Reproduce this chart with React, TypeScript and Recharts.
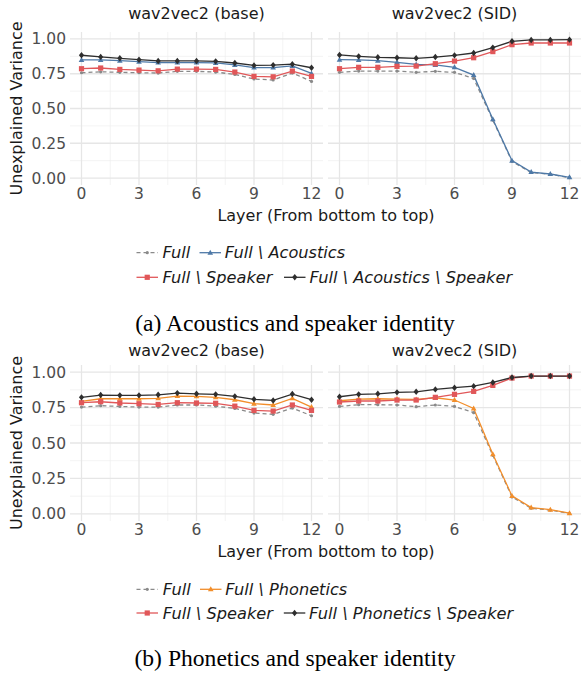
import React from "react";
import { LineChart, Line, XAxis, YAxis, ReferenceLine } from "recharts";

// ---------- DATA ----------
const layers = [0, 1, 2, 3, 4, 5, 6, 7, 8, 9, 10, 11, 12];
const xTicks = [0, 3, 6, 9, 12];
const yTicks = [0, 0.25, 0.5, 0.75, 1];

// (a) Acoustics and speaker identity — wav2vec2 (base)
const aBaseFull = [0.757, 0.764, 0.76, 0.757, 0.755, 0.767, 0.767, 0.762, 0.745, 0.712, 0.705, 0.755, 0.695];
const aBaseAco = [0.849, 0.849, 0.844, 0.837, 0.83, 0.83, 0.83, 0.828, 0.813, 0.794, 0.794, 0.806, 0.752];
const aBaseSpk = [0.786, 0.791, 0.781, 0.776, 0.771, 0.783, 0.783, 0.781, 0.762, 0.731, 0.728, 0.769, 0.731];
const aBaseAcoSpk = [0.883, 0.871, 0.861, 0.851, 0.842, 0.842, 0.842, 0.839, 0.827, 0.81, 0.812, 0.819, 0.793];
// (a) — wav2vec2 (SID)
const aSidFull = [0.76, 0.769, 0.769, 0.769, 0.76, 0.767, 0.76, 0.716, 0.416, 0.12, 0.04, 0.027, 0.003];
const aSidAco = [0.851, 0.849, 0.844, 0.832, 0.817, 0.813, 0.796, 0.74, 0.423, 0.125, 0.043, 0.029, 0.005];
const aSidSpk = [0.786, 0.796, 0.796, 0.803, 0.805, 0.822, 0.841, 0.865, 0.909, 0.959, 0.971, 0.971, 0.971];
const aSidAcoSpk = [0.885, 0.875, 0.868, 0.865, 0.861, 0.87, 0.882, 0.899, 0.938, 0.983, 0.993, 0.993, 0.995];

// (b) Phonetics and speaker identity — wav2vec2 (base)
const bBaseFull = [0.753, 0.763, 0.758, 0.753, 0.753, 0.768, 0.768, 0.76, 0.744, 0.711, 0.702, 0.746, 0.692];
const bBasePho = [0.793, 0.812, 0.812, 0.812, 0.815, 0.831, 0.829, 0.822, 0.805, 0.777, 0.768, 0.815, 0.753];
const bBaseSpk = [0.784, 0.791, 0.782, 0.777, 0.772, 0.784, 0.782, 0.78, 0.76, 0.73, 0.725, 0.768, 0.73];
const bBasePhoSpk = [0.822, 0.838, 0.836, 0.836, 0.84, 0.852, 0.847, 0.843, 0.829, 0.808, 0.8, 0.845, 0.805];
// (b) — wav2vec2 (SID)
const bSidFull = [0.758, 0.77, 0.77, 0.768, 0.756, 0.768, 0.758, 0.714, 0.413, 0.12, 0.04, 0.027, 0.003];
const bSidPho = [0.798, 0.81, 0.812, 0.81, 0.807, 0.819, 0.803, 0.744, 0.42, 0.127, 0.045, 0.03, 0.005];
const bSidSpk = [0.789, 0.796, 0.796, 0.803, 0.803, 0.822, 0.843, 0.864, 0.906, 0.958, 0.972, 0.972, 0.972];
const bSidPhoSpk = [0.826, 0.843, 0.847, 0.857, 0.861, 0.878, 0.89, 0.901, 0.927, 0.962, 0.972, 0.972, 0.972];

const panelTitles = ["wav2vec2 (base)", "wav2vec2 (SID)"];
const xTitle = "Layer (From bottom to top)";
const yTitle = "Unexplained Variance";
const captionA = "(a) Acoustics and speaker identity";
const captionB = "(b) Phonetics and speaker identity";
const legendA = ["Full", "Full \\ Acoustics", "Full \\ Speaker", "Full \\ Acoustics \\ Speaker"];
const legendB = ["Full", "Full \\ Phonetics", "Full \\ Speaker", "Full \\ Phonetics \\ Speaker"];

// ---------- STYLE ----------
const FONT = "'DejaVu Sans', Verdana, sans-serif";
const SERIF = "'Liberation Serif', 'Times New Roman', serif";
const GRAY = "#8a8a8a";
const BLUE = "#4e79a7";
const RED = "#e15759";
const ORANGE = "#f28e2b";
const BLACK = "#2e2e2e";

type Shape = "circle" | "triangle" | "square" | "diamond";
type SeriesDef = { key: string; color: string; shape: Shape; dashed?: boolean };

const seriesA: SeriesDef[] = [
  { key: "full", color: GRAY, shape: "circle", dashed: true },
  { key: "x", color: BLUE, shape: "triangle" },
  { key: "spk", color: RED, shape: "square" },
  { key: "xspk", color: BLACK, shape: "diamond" },
];
const seriesB: SeriesDef[] = [
  { key: "full", color: GRAY, shape: "circle", dashed: true },
  { key: "x", color: ORANGE, shape: "triangle" },
  { key: "spk", color: RED, shape: "square" },
  { key: "xspk", color: BLACK, shape: "diamond" },
];

function build(full: number[], x: number[], spk: number[], xspk: number[]) {
  return layers.map((l, i) => ({ layer: l, full: full[i], x: x[i], spk: spk[i], xspk: xspk[i] }));
}

const dataABase = build(aBaseFull, aBaseAco, aBaseSpk, aBaseAcoSpk);
const dataASid = build(aSidFull, aSidAco, aSidSpk, aSidAcoSpk);
const dataBBase = build(bBaseFull, bBasePho, bBaseSpk, bBasePhoSpk);
const dataBSid = build(bSidFull, bSidPho, bSidSpk, bSidPhoSpk);

function markerPath(shape: Shape, cx: number, cy: number, color: string, key?: any) {
  switch (shape) {
    case "circle":
      return <circle key={key} cx={cx} cy={cy} r={1.6} fill={color} />;
    case "triangle":
      return <path key={key} d={`M${cx},${cy - 3}L${cx + 2.8},${cy + 2}L${cx - 2.8},${cy + 2}Z`} fill={color} />;
    case "square":
      return <rect key={key} x={cx - 2.6} y={cy - 2.6} width={5.2} height={5.2} fill={color} />;
    case "diamond":
      return <path key={key} d={`M${cx},${cy - 3.2}L${cx + 2.6},${cy}L${cx},${cy + 3.2}L${cx - 2.6},${cy}Z`} fill={color} />;
  }
}

function makeDot(shape: Shape, color: string) {
  return (props: any) => {
    const { cx, cy, index } = props;
    if (cx == null || cy == null) return <g key={`d${index}`} />;
    return markerPath(shape, cx, cy, color, `d${index}`);
  };
}

const majorX = [0, 3, 6, 9, 12];
const minorX = [1.5, 4.5, 7.5, 10.5];
const majorY = [0, 0.25, 0.5, 0.75, 1];
const minorY = [0.125, 0.375, 0.625, 0.875];

function Panel(props: {
  data: any[];
  series: SeriesDef[];
  left: number;
  top: number;
  width: number;
  plotHeight: number;
  showY: boolean;
}) {
  const { data, series, left, top, width, plotHeight, showY } = props;
  const height = 32 + plotHeight + 20;
  return (
    <div style={{ position: "absolute", left, top }}>
      <LineChart width={width} height={height} data={data} margin={{ top: 32, right: 0, bottom: 0, left: 0 }}>
        <XAxis
          dataKey="layer"
          type="number"
          domain={[-0.6, 12.6]}
          ticks={xTicks}
          axisLine={false}
          tickLine={false}
          tickSize={0}
          tickMargin={3}
          height={20}
          interval={0}
          tick={{ fill: "#4d4d4d", fontSize: 15.5, fontFamily: FONT }}
          allowDataOverflow
        />
        <YAxis
          type="number"
          domain={[-0.05, 1.05]}
          ticks={yTicks}
          hide={!showY}
          width={70}
          axisLine={false}
          tickLine={false}
          tickSize={0}
          tickMargin={4}
          interval={0}
          tickFormatter={(v: number) => v.toFixed(2)}
          tick={{ fill: "#4d4d4d", fontSize: 15.5, fontFamily: FONT }}
          allowDataOverflow
        />
        {minorY.map((v) => (
          <ReferenceLine key={`my${v}`} y={v} stroke="#efefef" strokeWidth={0.7} />
        ))}
        {minorX.map((v) => (
          <ReferenceLine key={`mx${v}`} x={v} stroke="#efefef" strokeWidth={0.7} />
        ))}
        {majorY.map((v) => (
          <ReferenceLine key={`My${v}`} y={v} stroke="#e6e6e6" strokeWidth={1.3} />
        ))}
        {majorX.map((v) => (
          <ReferenceLine key={`Mx${v}`} x={v} stroke="#e6e6e6" strokeWidth={1.3} />
        ))}
        {series.map((s) => (
          <Line
            key={s.key}
            dataKey={s.key}
            type="linear"
            stroke={s.color}
            strokeWidth={1.3}
            strokeDasharray={s.dashed ? "4 3" : undefined}
            dot={makeDot(s.shape, s.color)}
            activeDot={false}
            isAnimationActive={false}
          />
        ))}
      </LineChart>
    </div>
  );
}

function LegendItem(props: { x: number; y: number; s: SeriesDef; label: string; textX: number }) {
  const { x, y, s, label, textX } = props;
  return (
    <g>
      <line
        x1={x}
        x2={x + 21.5}
        y1={y}
        y2={y}
        stroke={s.color}
        strokeWidth={1.3}
        strokeDasharray={s.dashed ? "4 3" : undefined}
      />
      {markerPath(s.shape, x + 10.75, y, s.color)}
      <text x={textX} y={y} dominantBaseline="central" fontFamily={FONT} fontStyle="italic" fontSize={16.2} fill="#1a1a1a">
        {label}
      </text>
    </g>
  );
}

export default function App() {
  const aPlotTop = 32;
  const aPlotH = 153;
  const bChartTop = 333;
  const bPlotH = 156;
  const bPlotTop = bChartTop + 32;

  return (
    <div style={{ position: "absolute", left: 0, top: 0, width: 581, height: 673, background: "#fff", overflow: "hidden" }}>
      <Panel data={dataABase} series={seriesA} left={0} top={0} width={323} plotHeight={aPlotH} showY />
      <Panel data={dataASid} series={seriesA} left={328} top={0} width={253} plotHeight={aPlotH} showY={false} />
      <Panel data={dataBBase} series={seriesB} left={0} top={bChartTop} width={323} plotHeight={bPlotH} showY />
      <Panel data={dataBSid} series={seriesB} left={328} top={bChartTop} width={253} plotHeight={bPlotH} showY={false} />

      <svg width={581} height={673} style={{ position: "absolute", left: 0, top: 0, pointerEvents: "none" }}>
        {/* Figure (a) */}
        <text x={196.5} y={13.5} textAnchor="middle" dominantBaseline="central" fontFamily={FONT} fontSize={16} fill="#1a1a1a">
          {panelTitles[0]}
        </text>
        <text x={454.5} y={13.5} textAnchor="middle" dominantBaseline="central" fontFamily={FONT} fontSize={16} fill="#1a1a1a">
          {panelTitles[1]}
        </text>
        <text
          x={16.5}
          y={aPlotTop + aPlotH / 2}
          textAnchor="middle"
          dominantBaseline="central"
          fontFamily={FONT}
          fontSize={16}
          fill="#1a1a1a"
          transform={`rotate(-90 16.5 ${aPlotTop + aPlotH / 2})`}
        >
          {yTitle}
        </text>
        <text x={326} y={215} textAnchor="middle" dominantBaseline="central" fontFamily={FONT} fontSize={16} fill="#1a1a1a">
          {xTitle}
        </text>
        <LegendItem x={136.5} y={252.7} s={seriesA[0]} label={legendA[0]} textX={162.4} />
        <LegendItem x={199.5} y={252.7} s={seriesA[1]} label={legendA[1]} textX={224.8} />
        <LegendItem x={136.5} y={277.3} s={seriesA[2]} label={legendA[2]} textX={162.4} />
        <LegendItem x={284} y={277.3} s={seriesA[3]} label={legendA[3]} textX={309.5} />
        <text x={295} y={323.3} textAnchor="middle" dominantBaseline="central" fontFamily={SERIF} fontSize={23.6} fill="#000">
          {captionA}
        </text>

        {/* Figure (b) */}
        <text x={196.5} y={350} textAnchor="middle" dominantBaseline="central" fontFamily={FONT} fontSize={16} fill="#1a1a1a">
          {panelTitles[0]}
        </text>
        <text x={454.5} y={350} textAnchor="middle" dominantBaseline="central" fontFamily={FONT} fontSize={16} fill="#1a1a1a">
          {panelTitles[1]}
        </text>
        <text
          x={16.5}
          y={bPlotTop + bPlotH / 2}
          textAnchor="middle"
          dominantBaseline="central"
          fontFamily={FONT}
          fontSize={16}
          fill="#1a1a1a"
          transform={`rotate(-90 16.5 ${bPlotTop + bPlotH / 2})`}
        >
          {yTitle}
        </text>
        <text x={326} y={551.7} textAnchor="middle" dominantBaseline="central" fontFamily={FONT} fontSize={16} fill="#1a1a1a">
          {xTitle}
        </text>
        <LegendItem x={136.5} y={589.3} s={seriesB[0]} label={legendB[0]} textX={162.8} />
        <LegendItem x={200} y={589.3} s={seriesB[1]} label={legendB[1]} textX={225.3} />
        <LegendItem x={136.5} y={613} s={seriesB[2]} label={legendB[2]} textX={162.8} />
        <LegendItem x={283.8} y={613} s={seriesB[3]} label={legendB[3]} textX={309.1} />
        <text x={295} y={658.3} textAnchor="middle" dominantBaseline="central" fontFamily={SERIF} fontSize={23.6} fill="#000">
          {captionB}
        </text>
      </svg>
    </div>
  );
}
